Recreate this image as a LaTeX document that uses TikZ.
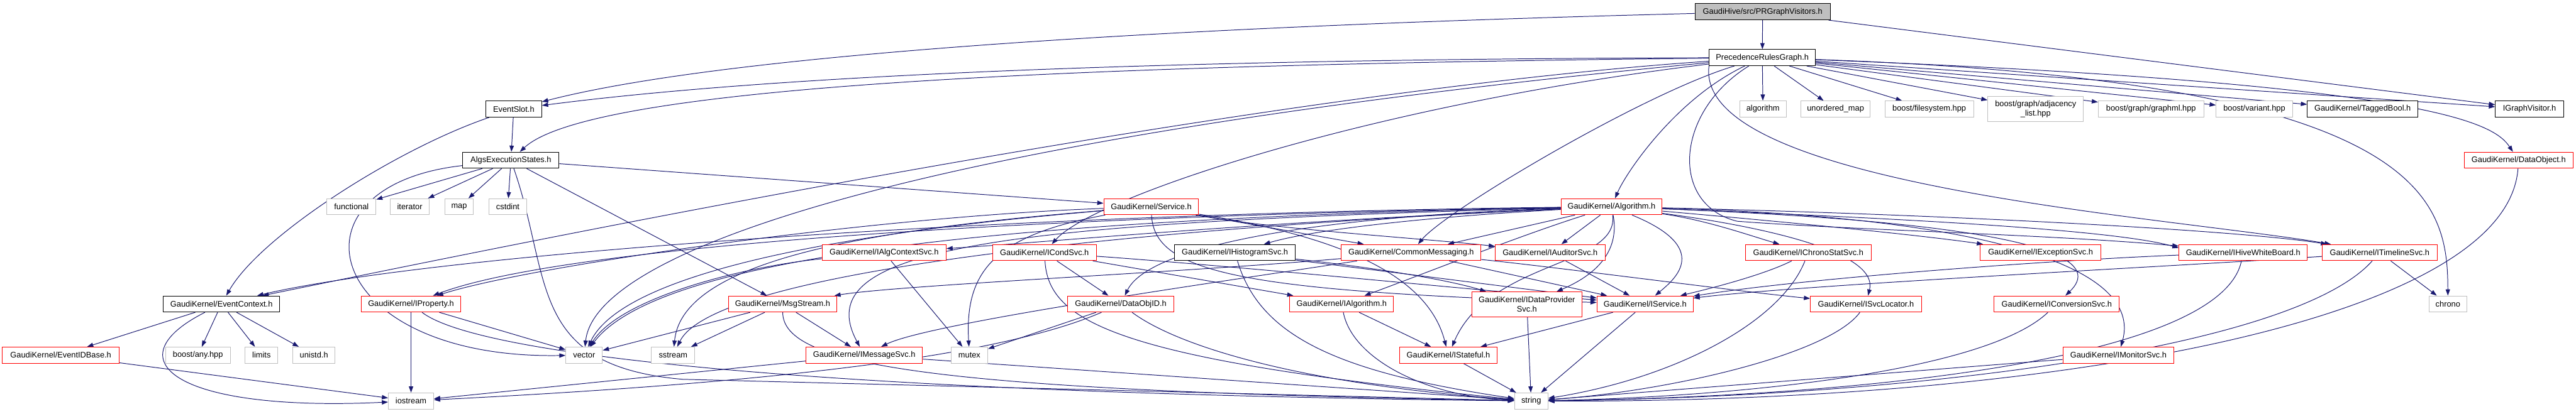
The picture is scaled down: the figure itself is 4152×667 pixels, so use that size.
\documentclass[tikz,border=0pt]{standalone}
\usepackage{fontspec}
\setmainfont{Liberation Sans}
\usetikzlibrary{arrows.meta}
\definecolor{edgeblue}{HTML}{191970}
\definecolor{boxred}{HTML}{FF0000}
\definecolor{sysgrey}{HTML}{BFBFBF}
\pgfdeclarelayer{bg}
\pgfsetlayers{bg,main}
\tikzset{
  hdr/.style={draw, rectangle, line width=1pt, fill=white, minimum height=26pt,
    inner sep=0pt, font=\fontsize{13}{15}\selectfont},
  redhdr/.style={hdr, draw=boxred},
  blkhdr/.style={hdr, draw=black},
  syshdr/.style={hdr, draw=sysgrey},
  roothdr/.style={hdr, draw=black, fill=sysgrey},
  twoline/.style={align=center, minimum height=40pt},
  dep/.style={->, draw=edgeblue, line width=1pt}
}
\begin{document}
\begin{tikzpicture}[x=1pt, y=-1pt, >={Triangle[length=10pt, width=7pt]}]
    \useasboundingbox (0,0) rectangle (4152,667);

    % top of the graph
    \node[roothdr, minimum width=218pt] (prgv) at (2841,19) {GaudiHive/src/PRGraphVisitors.h};
    \node[blkhdr, minimum width=171pt] (prg) at (2840.5,93) {PrecedenceRulesGraph.h};

    \node[blkhdr, minimum width=90pt] (evslot) at (828,176) {EventSlot.h};
    \node[syshdr, minimum width=75pt] (stdalgo) at (2841.5,176) {algorithm};
    \node[syshdr, minimum width=111pt] (umap) at (2958.5,176) {unordered\_map};
    \node[syshdr, minimum width=143pt] (bfs) at (3109.5,176) {boost/filesystem.hpp};
    \node[syshdr, twoline, minimum width=154pt] (badj) at (3281,176) {boost/graph/adjacency\\\_list.hpp};
    \node[syshdr, minimum width=170pt] (bgml) at (3467,176) {boost/graph/graphml.hpp};
    \node[syshdr, minimum width=123pt] (bvar) at (3633.5,176) {boost/variant.hpp};
    \node[blkhdr, minimum width=178pt] (tagged) at (3808,176) {GaudiKernel/TaggedBool.h};
    \node[blkhdr, minimum width=110pt] (igv) at (4077,176) {IGraphVisitor.h};

    \node[blkhdr, minimum width=155pt] (algstates) at (823.5,258.5) {AlgsExecutionStates.h};
    \node[redhdr, minimum width=175pt] (dataobj) at (4059.5,258.5) {GaudiKernel/DataObject.h};

    \node[syshdr, minimum width=79pt] (functional) at (566.5,333.5) {functional};
    \node[syshdr, minimum width=63pt] (iterator) at (660.5,333.5) {iterator};
    \node[syshdr, minimum width=46pt] (map) at (740,333.5) {map};
    \node[syshdr, minimum width=61pt] (cstdint) at (818.5,333.5) {cstdint};
    \node[redhdr, minimum width=153pt] (service) at (1855.5,333.5) {GaudiKernel/Service.h};
    \node[redhdr, minimum width=163pt] (algorithm) at (2597.5,333.5) {GaudiKernel/Algorithm.h};

    % interfaces row
    \node[redhdr, minimum width=200pt] (ialgctx) at (1425,407.5) {GaudiKernel/IAlgContextSvc.h};
    \node[redhdr, minimum width=167pt] (icond) at (1683.5,407.5) {GaudiKernel/ICondSvc.h};
    \node[blkhdr, minimum width=195pt] (ihist) at (1990.5,407.5) {GaudiKernel/IHistogramSvc.h};
    \node[redhdr, minimum width=225pt] (commsg) at (2274.5,407.5) {GaudiKernel/CommonMessaging.h};
    \node[redhdr, minimum width=177pt] (iaud) at (2498.5,407.5) {GaudiKernel/IAuditorSvc.h};
    \node[redhdr, minimum width=203pt] (ichrono) at (2914.5,407.5) {GaudiKernel/IChronoStatSvc.h};
    \node[redhdr, minimum width=194pt] (iexc) at (3289,407.5) {GaudiKernel/IExceptionSvc.h};
    \node[redhdr, minimum width=207pt] (ihive) at (3615.5,407.5) {GaudiKernel/IHiveWhiteBoard.h};
    \node[redhdr, minimum width=185pt] (itime) at (3835.5,407.5) {GaudiKernel/ITimelineSvc.h};

    \node[blkhdr, minimum width=188pt] (evctx) at (357,490.5) {GaudiKernel/EventContext.h};
    \node[redhdr, minimum width=161pt] (iprop) at (662.5,490.5) {GaudiKernel/IProperty.h};
    \node[redhdr, minimum width=175pt] (msgstream) at (1261.5,490.5) {GaudiKernel/MsgStream.h};
    \node[redhdr, minimum width=171pt] (dataobjid) at (1806.5,490.5) {GaudiKernel/DataObjID.h};
    \node[redhdr, minimum width=167pt] (ialg) at (2162.5,490.5) {GaudiKernel/IAlgorithm.h};
    \node[redhdr, twoline, minimum width=178pt] (idp) at (2461,491) {GaudiKernel/IDataProvider\\Svc.h};
    \node[redhdr, minimum width=155pt] (iservice) at (2651.5,490.5) {GaudiKernel/IService.h};
    \node[redhdr, minimum width=179pt] (isvcloc) at (3007.5,490.5) {GaudiKernel/ISvcLocator.h};
    \node[redhdr, minimum width=202pt] (iconv) at (3315,490.5) {GaudiKernel/IConversionSvc.h};
    \node[syshdr, minimum width=61pt] (chrono) at (3945.5,490.5) {chrono};

    \node[redhdr, minimum width=188pt] (evid) at (98,573) {GaudiKernel/EventIDBase.h};
    \node[syshdr, minimum width=104pt] (anyhpp) at (319,573) {boost/any.hpp};
    \node[syshdr, minimum width=53pt] (limits) at (421.5,573) {limits};
    \node[syshdr, minimum width=68pt] (unistd) at (506,573) {unistd.h};
    \node[syshdr, minimum width=59pt] (vector) at (941.5,573) {vector};
    \node[syshdr, minimum width=70pt] (sstream) at (1085,573) {sstream};
    \node[redhdr, minimum width=188pt] (imsgsvc) at (1393,573) {GaudiKernel/IMessageSvc.h};
    \node[syshdr, minimum width=59pt] (mutex) at (1562.5,573) {mutex};
    \node[redhdr, minimum width=157pt] (istateful) at (2334.5,573) {GaudiKernel/IStateful.h};
    \node[redhdr, minimum width=179pt] (imon) at (3414.5,573) {GaudiKernel/IMonitorSvc.h};

    \node[syshdr, minimum width=73pt] (iostream) at (662.5,647) {iostream};
    \node[syshdr, minimum width=54pt] (string) at (2468,647) {string};

    \begin{pgfonlayer}{bg}
    % PRGraphVisitors.h
    \draw[dep] (prgv) -- (prg);
    \draw[dep] (prgv) .. controls (2000,40) and (1200,80) .. (evslot);
    \draw[dep] (prgv) -- (igv);
    % PrecedenceRulesGraph.h
    \draw[dep] (prg) .. controls (2000,95) and (1300,115) .. (evslot);
    \draw[dep] (prg) .. controls (1700,105) and (950,140) .. (algstates);
    \draw[dep] (prg) .. controls (2000,150) and (800,400) .. (evctx);
    \draw[dep] (prg) .. controls (1500,220) and (960,400) .. (vector);
    \draw[dep] (prg) .. controls (2200,170) and (1760,320) .. (icond);
    \draw[dep] (prg) .. controls (2650,150) and (2330,340) .. (commsg);
    \draw[dep] (prg) .. controls (2700,160) and (2620,280) .. (algorithm);
    \draw[dep] (prg) .. controls (2700,180) and (2690,330) .. (2800,357)
        .. controls (3000,372) and (3300,378) .. ([yshift=-3pt]ihive.north west);
    \draw[dep] (prg.south west) .. controls (2730,300) and (3500,350) .. (itime);
    \draw[dep] (prg) -- (stdalgo);
    \draw[dep] (prg) -- (umap);
    \draw[dep] (prg) -- (bfs);
    \draw[dep] (prg) -- (badj);
    \draw[dep] (prg) -- (bgml);
    \draw[dep] (prg) -- (bvar);
    \draw[dep] (prg) -- (tagged);
    \draw[dep] (prg) -- (igv);
    \draw[dep] (prg) .. controls (3930,135) and (4020,200) .. (dataobj);
    \draw[dep] (prg) .. controls (3910,130) and (3945,320) .. (chrono);
    % EventSlot.h and AlgsExecutionStates.h
    \draw[dep] (evslot) -- (algstates);
    \draw[dep] (evslot) .. controls (640,240) and (420,380) .. (evctx);
    \draw[dep] (algstates) -- (functional);
    \draw[dep] (algstates) -- (iterator);
    \draw[dep] (algstates) -- (map);
    \draw[dep] (algstates) -- (cstdint);
    \draw[dep] (algstates) .. controls (450,300) and (520,580) .. (vector);
    \draw[dep] (algstates) .. controls (890,450) and (850,590) .. (1100,612) -- (string);
    \draw[dep] (algstates) -- (msgstream);
    \draw[dep] (algstates) -- (service);
    % EventContext.h
    \draw[dep] (evctx) -- (evid);
    \draw[dep] (evctx) -- (anyhpp);
    \draw[dep] (evctx) -- (limits);
    \draw[dep] (evctx) -- (unistd);
    \draw[dep] (evctx) .. controls (180,580) and (280,665) .. (iostream);
    \draw[dep] (evid) -- (iostream);
    % IProperty.h, MsgStream.h, IMessageSvc.h
    \draw[dep] (iprop) -- (iostream);
    \draw[dep] (iprop) -- (vector);
    \draw[dep] (iprop) .. controls (780,580) and (1400,635) .. (string);
    \draw[dep] (msgstream) -- (vector);
    \draw[dep] (msgstream) -- (sstream);
    \draw[dep] (msgstream) -- (imsgsvc);
    \draw[dep] (msgstream) .. controls (1262,590) and (1500,630) .. (string);
    \draw[dep] (imsgsvc) -- (iostream);
    \draw[dep] (imsgsvc) -- (string);
    \draw[dep] (ialgctx) .. controls (1200,430) and (1000,480) .. (vector);
    \draw[dep] (ialgctx) -- (mutex);
    % Service.h
    \draw[dep] (service) -- (commsg);
    \draw[dep] (service) .. controls (2050,370) and (2300,385) .. (iaud);
    \draw[dep] (service) .. controls (1400,350) and (850,430) .. (iprop);
    \draw[dep] (service) .. controls (1300,380) and (1000,450) .. (vector);
    \draw[dep] (service) .. controls (1400,370) and (1100,420) .. (sstream);
    \draw[dep] (service) .. controls (1600,380) and (1555,440) .. (mutex);
    \draw[dep] (service) .. controls (1860,440) and (2000,470) .. (iservice);
    \draw[dep] (service) .. controls (2150,380) and (2300,440) .. (istateful);
    % Algorithm.h
    \draw[dep] (algorithm) .. controls (1600,345) and (700,410) .. (evctx);
    \draw[dep] (algorithm) .. controls (1600,350) and (900,400) .. (iprop);
    \draw[dep] (algorithm) .. controls (1500,355) and (1050,430) .. (vector);
    \draw[dep] (algorithm) .. controls (1800,370) and (1150,440) .. (sstream);
    \draw[dep] (algorithm) .. controls (2000,360) and (1700,390) .. (ialgctx);
    \draw[dep] (algorithm) .. controls (1600,360) and (1300,400) .. (imsgsvc);
    \draw[dep] (algorithm) .. controls (2100,350) and (1850,400) .. (dataobjid);
    \draw[dep] (algorithm) .. controls (2300,350) and (2120,370) .. (ihist);
    \draw[dep] (algorithm) -- (commsg);
    \draw[dep] (algorithm) -- (iaud);
    \draw[dep] (algorithm) .. controls (2450,380) and (2300,440) .. (ialg);
    \draw[dep] (algorithm) .. controls (2610,400) and (2580,440) .. (idp);
    \draw[dep] (algorithm) .. controls (2760,400) and (2700,450) .. (iservice);
    \draw[dep] (algorithm) .. controls (2610,430) and (2400,420) .. (istateful);
    \draw[dep] (algorithm) .. controls (2800,360) and (3030,400) .. (isvcloc);
    \draw[dep] (algorithm) .. controls (2750,355) and (2820,380) .. (ichrono);
    \draw[dep] (algorithm) .. controls (2900,360) and (3100,380) .. (iexc);
    \draw[dep] (algorithm) .. controls (3000,350) and (3430,380) .. (iconv);
    \draw[dep] (algorithm) .. controls (3200,350) and (3455,430) .. (imon);
    \draw[dep] (algorithm) .. controls (3000,350) and (3400,368) .. ([yshift=-6pt]ihive.north west);
    \draw[dep] (algorithm) .. controls (3100,345) and (3600,370) .. (itime);
    % interfaces
    \draw[dep] (commsg) .. controls (1900,440) and (1450,460) .. (msgstream);
    \draw[dep] (commsg) .. controls (2000,450) and (1500,520) .. (imsgsvc);
    \draw[dep] (commsg) .. controls (2500,430) and (2800,470) .. (isvcloc);
    \draw[dep] (commsg) -- (iservice);
    \draw[dep] (icond) -- (dataobjid);
    \draw[dep] (icond) -- (ialg);
    \draw[dep] (icond) .. controls (2000,430) and (2400,470) .. (iservice);
    \draw[dep] (icond) .. controls (1690,520) and (1800,580) .. (string);
    \draw[dep] (ihist) .. controls (2200,430) and (2330,450) .. (idp);
    \draw[dep] (ihist) -- (iservice);
    \draw[dep] (ihist) .. controls (2030,540) and (2150,600) .. (string);
    \draw[dep] (dataobjid) -- (mutex);
    \draw[dep] (dataobjid) .. controls (1600,580) and (1200,620) .. (iostream);
    \draw[dep] (dataobjid) .. controls (1900,560) and (2100,620) .. (string);
    \draw[dep] (ialg) -- (istateful);
    \draw[dep] (ialg) .. controls (2180,580) and (2300,640) .. (string);
    \draw[dep] (iaud) -- (iservice);
    \draw[dep] (idp) -- (string);
    \draw[dep] (iservice) -- (istateful);
    \draw[dep] (iservice) -- (string);
    \draw[dep] (istateful) -- (string);
    \draw[dep] (isvcloc) .. controls (2950,570) and (2700,630) .. (string);
    \draw[dep] (ichrono) .. controls (2850,440) and (2780,460) .. (iservice);
    \draw[dep] (ichrono) .. controls (2870,520) and (2700,610) .. (string);
    \draw[dep] (iconv) .. controls (3200,600) and (2800,640) .. (string);
    \draw[dep] (imon) -- (string);
    \draw[dep] (ihive) .. controls (3300,420) and (2900,450) .. (iservice);
    \draw[dep] (ihive) .. controls (3580,580) and (3000,640) .. (string);
    \draw[dep] (itime) -- (chrono);
    \draw[dep] (itime) .. controls (3500,430) and (2900,460) .. (iservice);
    \draw[dep] (itime) .. controls (3700,560) and (3100,640) .. (string);
    \draw[dep] (dataobj) .. controls (4040,520) and (3300,650) .. (string);
    \end{pgfonlayer}
\end{tikzpicture}
\end{document}
